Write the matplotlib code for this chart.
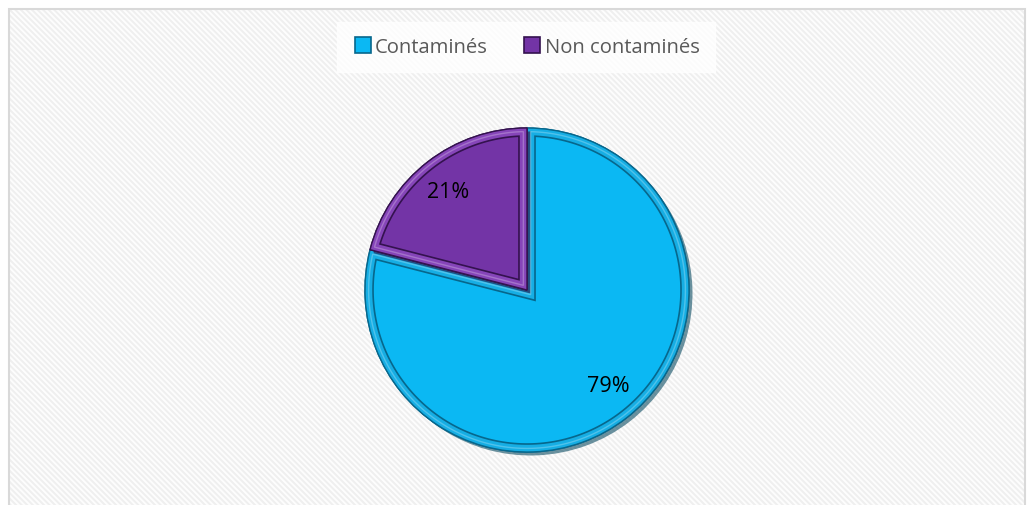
import numpy as np
import matplotlib.pyplot as plt
import matplotlib.patheffects as pe
from matplotlib.patches import Rectangle, Polygon
from matplotlib.lines import Line2D

categories = ["Contaminés", "Non contaminés"]
shares = [79, 21]
pct_labels = ["79%", "21%"]

fill_colors = ["#0bb8f3", "#7334a6"]
rim_colors = ["#16aee4", "#8645b9"]
line_colors = ["#07678c", "#34124f"]
shadow_colors = ["#0b4c63", "#2a0f40"]

plt.rcParams['hatch.linewidth'] = 1.4

fig = plt.figure(figsize=(10.32, 5.06), dpi=100)
ax = fig.add_axes([0, 0, 1, 1])

# chart area: striped background and thin grey frame
ax.add_patch(Rectangle((8.5, -5), 1016, 501, facecolor='#fdfdfd',
                       edgecolor='#efefef', hatch='\\\\\\\\\\\\', lw=0, zorder=0))
ax.add_patch(Rectangle((8.5, -5), 1016, 501, facecolor='none',
                       edgecolor='#d9d9d9', lw=1.5, zorder=1))

center = (527, 215)
radius = 162
bevel = 8

# slice bodies (the bevelled rim), with a soft drop shadow
wedges, _ = ax.pie(shares, colors=rim_colors, startangle=90, counterclock=False,
                   center=center, radius=radius, explode=[0.028, 0.028],
                   wedgeprops=dict(linewidth=1.0))
for w, lc, sc in zip(wedges, line_colors, shadow_colors):
    w.set_edgecolor(lc)
    w.set_zorder(2)
    w.set_path_effects([pe.withSimplePatchShadow(offset=(2.5, -2.5), shadow_rgbFace=sc,
                                                 alpha=0.6), pe.Normal()])


def inset_face(w, d):
    # flat top face of a wedge, pulled in by d from every edge
    cx, cy = w.center
    t1, t2 = np.radians(w.theta1), np.radians(w.theta2)
    span = t2 - t1
    mid = (t1 + t2) / 2
    k = d / np.sin(span / 2)
    apex = (cx + k * np.cos(mid), cy + k * np.sin(mid))
    r = w.r - d
    a1 = t1 + np.arcsin(d / r)
    a2 = t2 - np.arcsin(d / r)
    th = np.linspace(a1, a2, 200)
    arc = np.column_stack([cx + r * np.cos(th), cy + r * np.sin(th)])
    return np.vstack([apex, arc])


for w, fc, lc in zip(wedges, fill_colors, line_colors):
    face = Polygon(inset_face(w, bevel), closed=True, facecolor=fc,
                   edgecolor=lc, lw=1.2, zorder=3)
    ax.add_patch(face)
    # light sheen on the rim, halfway between face and outer edge
    hl = Polygon(inset_face(w, bevel * 0.45), closed=True, facecolor='none',
                 edgecolor='white', lw=1.0, alpha=0.25, zorder=2.5)
    ax.add_patch(hl)

# pie() resets the limits, so fix the pixel-like frame afterwards
ax.set_xlim(0, 1032)
ax.set_ylim(0, 506)
ax.set_aspect('equal')
ax.axis('off')

# percentage labels
ax.text(608, 506 - 387, pct_labels[0], fontsize=15.5, ha='center', va='center',
        family='Open Sans', color='black', zorder=5)
ax.text(448, 506 - 193, pct_labels[1], fontsize=15.5, ha='center', va='center',
        family='Open Sans', color='black', zorder=5)

handles = [Line2D([], [], marker='s', ls='none', markersize=11,
                  markerfacecolor=fill_colors[i], markeredgecolor=line_colors[i],
                  markeredgewidth=1.2) for i in range(2)]
leg = fig.legend(handles, categories, loc='center', bbox_to_anchor=(526 / 1032, 1 - 48 / 506),
                 ncol=2, frameon=True, fancybox=False, handletextpad=0.1,
                 columnspacing=1.7, borderpad=0.75, borderaxespad=0, handlelength=1.0,
                 prop={'family': 'Open Sans', 'size': 14.6})
leg.get_frame().set_facecolor('white')
leg.get_frame().set_edgecolor('white')
for t in leg.get_texts():
    t.set_color('#595959')

fig.savefig('out.png', dpi=100)
